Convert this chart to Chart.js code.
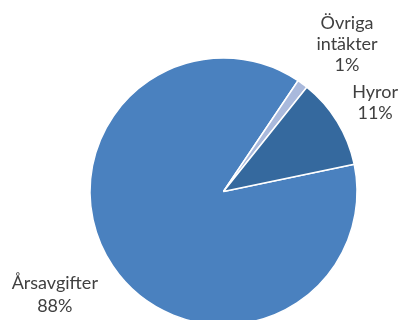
<!DOCTYPE html>
<html>
<head>
<meta charset="utf-8">
<script src="https://cdn.jsdelivr.net/npm/chart.js@4"></script>
<style>
	html, body { margin:0; padding:0; background:#fff; }
	#wrap { width:398px; height:320px; overflow:hidden; position:relative; }
	#box { width:398px; height:383px; }
</style>
</head>
<body>
<div id="wrap"><div id="box"><canvas id="myChart"></canvas></div></div>
<script>

var labels = [ "Årsavgifter", "Övriga intäkter", "Hyror" ];
var values = [ 87.7, 1.3, 11.0 ];
var shown = [ "88%", "1%", "11%" ];
var colors = [ "#4a81bf", "#a9b9dc", "#35699e" ];

// label text lines and distance from centre (in radii), drawn near the slice's mid angle
var labelLines = [ ["Årsavgifter", shown[0]], ["Övriga","intäkter", shown[1]], ["Hyror", shown[2]] ];
var labelDist = [ 1.48, 1.44, 1.315 ];
var labelTurn = [ 0.045, 0.065, 0.023 ];

var pieLabels = {
	id: "pieLabels",
	afterDatasetsDraw: (chart)=>{
		var ctx = chart.ctx;
		var meta = chart.getDatasetMeta(0);
		ctx.save();
		ctx.font = "18px Lato";
		ctx.fillStyle = "#404040";
		ctx.textAlign = "center";
		ctx.textBaseline = "middle";
		meta.data.forEach( (arc,i)=>{
			var p = arc.getProps(["x","y","startAngle","endAngle","outerRadius"], true);
			var a = (p.startAngle + p.endAngle)/2 + labelTurn[i];
			var r = p.outerRadius * labelDist[i];
			var cx = p.x + Math.cos(a)*r;
			var cy = p.y + Math.sin(a)*r;
			var lines = labelLines[i];
			var lh = i==0 ? 23 : 20.7;
			lines.forEach( (t,k)=>{
				ctx.fillText( t, cx, cy + (k - (lines.length-1)/2)*lh );
			});
		});
		ctx.restore();
	}
};

new Chart("myChart", {
	type: "pie",
	data: {
		labels: labels,
		datasets: [{
			data: values,
			backgroundColor: colors,
			borderColor: "#ffffff",
			borderWidth: 1.5,
			radius: 133.5
		}]
	},
	options: {
		responsive: true,
		maintainAspectRatio: false,
		animation: false,
		rotation: 78.2,
		layout: { padding: { left: 49, right: 0, top: 0, bottom: 0 } },
		plugins: {
			legend: { display: false },
			tooltip: { enabled: false }
		}
	},
	plugins: [ pieLabels ]
});

</script>
</body>
</html>
